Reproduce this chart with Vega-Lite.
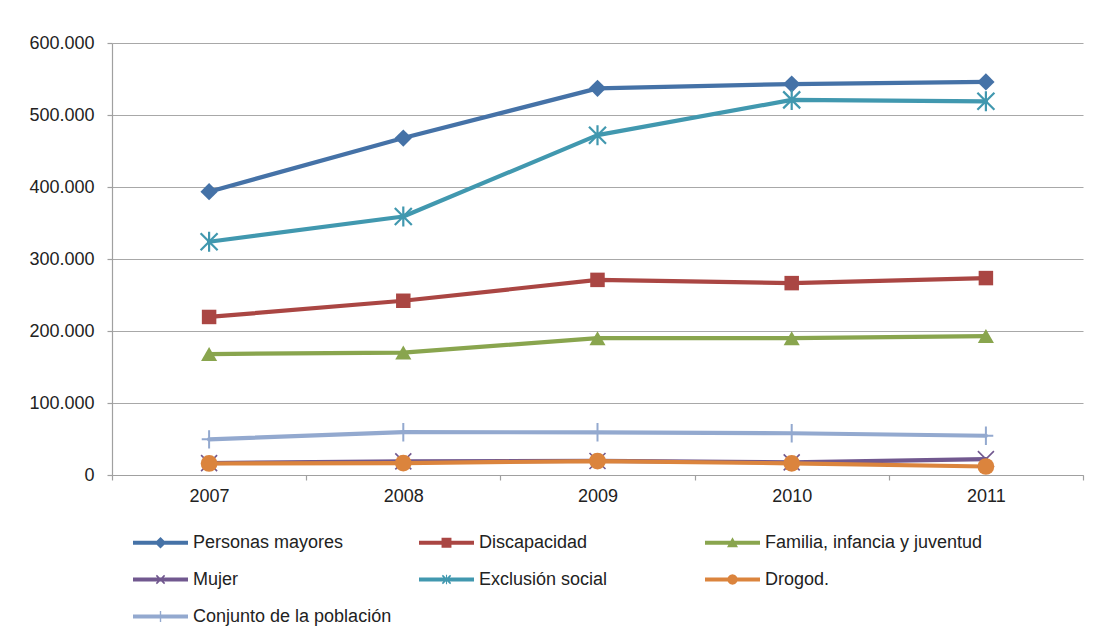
{
  "$schema": "https://vega.github.io/schema/vega-lite/v6.json",
  "autosize": "none",
  "width": 971,
  "height": 432,
  "padding": {"left": 112, "top": 43, "right": 15, "bottom": 164},
  "background": "white",
  "config": {
    "font": "Liberation Sans",
    "view": {"stroke": null},
    "axis": {"labelFont": "Liberation Sans", "labelFontSize": 18, "labelColor": "#222222", "domainColor": "#a0a0a0", "tickColor": "#a0a0a0", "gridColor": "#a8a8a8", "domainWidth": 1.2, "tickWidth": 1.2, "gridWidth": 1.2, "tickSize": 5, "title": null}
  },
  "data": {
    "values": [
      {"series": "Personas mayores", "year": "2007", "value": 393500},
      {"series": "Personas mayores", "year": "2008", "value": 468000},
      {"series": "Personas mayores", "year": "2009", "value": 537000},
      {"series": "Personas mayores", "year": "2010", "value": 543000},
      {"series": "Personas mayores", "year": "2011", "value": 546000},
      {"series": "Discapacidad", "year": "2007", "value": 219500},
      {"series": "Discapacidad", "year": "2008", "value": 242000},
      {"series": "Discapacidad", "year": "2009", "value": 271000},
      {"series": "Discapacidad", "year": "2010", "value": 266500},
      {"series": "Discapacidad", "year": "2011", "value": 273500},
      {"series": "Familia, infancia y juventud", "year": "2007", "value": 168000},
      {"series": "Familia, infancia y juventud", "year": "2008", "value": 170000},
      {"series": "Familia, infancia y juventud", "year": "2009", "value": 190000},
      {"series": "Familia, infancia y juventud", "year": "2010", "value": 190000},
      {"series": "Familia, infancia y juventud", "year": "2011", "value": 193000},
      {"series": "Mujer", "year": "2007", "value": 16500},
      {"series": "Mujer", "year": "2008", "value": 19000},
      {"series": "Mujer", "year": "2009", "value": 19500},
      {"series": "Mujer", "year": "2010", "value": 17500},
      {"series": "Mujer", "year": "2011", "value": 22000},
      {"series": "Exclusión social", "year": "2007", "value": 324000},
      {"series": "Exclusión social", "year": "2008", "value": 359000},
      {"series": "Exclusión social", "year": "2009", "value": 472000},
      {"series": "Exclusión social", "year": "2010", "value": 521000},
      {"series": "Exclusión social", "year": "2011", "value": 519000},
      {"series": "Drogod.", "year": "2007", "value": 16000},
      {"series": "Drogod.", "year": "2008", "value": 16500},
      {"series": "Drogod.", "year": "2009", "value": 19400},
      {"series": "Drogod.", "year": "2010", "value": 16200},
      {"series": "Drogod.", "year": "2011", "value": 11800},
      {"series": "Conjunto de la población", "year": "2007", "value": 49500},
      {"series": "Conjunto de la población", "year": "2008", "value": 59500},
      {"series": "Conjunto de la población", "year": "2009", "value": 59300},
      {"series": "Conjunto de la población", "year": "2010", "value": 58000},
      {"series": "Conjunto de la población", "year": "2011", "value": 54500}
    ]
  },
  "encoding": {
    "x": {
      "field": "year", "type": "ordinal",
      "scale": {"type": "band", "paddingInner": 0, "paddingOuter": 0, "domain": ["2007", "2008", "2009", "2010", "2011"]},
      "axis": {"tickBand": "extent", "labelAngle": 0, "labelPadding": 7, "grid": false}
    },
    "y": {
      "field": "value", "type": "quantitative",
      "scale": {"domain": [0, 600000], "nice": false, "zero": true},
      "axis": {"values": [0, 100000, 200000, 300000, 400000, 500000, 600000], "grid": true, "labelPadding": 13, "labelExpr": "datum.value == 0 ? '0' : replace(format(datum.value, ','), ',', '.')"}
    },
    "color": {
      "field": "series", "type": "nominal", "legend": null,
      "scale": {
        "range": ["#93A9CF", "#AA4643", "#DB843D", "#4198AF", "#89A54E", "#71588F", "#4572A7"]
      }
    }
  },
  "layer": [
    {"mark": {"type": "line", "strokeWidth": 4.2, "strokeJoin": "round", "strokeCap": "round"}, "encoding": {"detail": {"field": "series"}}},
    {"transform": [{"filter": {"field": "series", "equal": "Personas mayores"}}], "mark": {"type": "point", "shape": "diamond", "filled": true, "size": 300, "opacity": 1}},
    {"transform": [{"filter": {"field": "series", "equal": "Discapacidad"}}], "mark": {"type": "point", "shape": "square", "filled": true, "size": 210, "opacity": 1}},
    {"transform": [{"filter": {"field": "series", "equal": "Familia, infancia y juventud"}}], "mark": {"type": "point", "shape": "triangle-up", "filled": true, "size": 260, "opacity": 1}},
    {"transform": [{"filter": {"field": "series", "equal": "Mujer"}}], "mark": {"type": "point", "shape": "M-1,-1L1,1M-1,1L1,-1", "filled": false, "size": 256, "strokeWidth": 1.6, "opacity": 1}},
    {"transform": [{"filter": {"field": "series", "equal": "Exclusión social"}}], "mark": {"type": "point", "shape": "M-0.85,-0.85L0.85,0.85M-0.85,0.85L0.85,-0.85M0,-1L0,1", "filled": false, "size": 400, "strokeWidth": 2.2, "opacity": 1}},
    {"transform": [{"filter": {"field": "series", "equal": "Drogod."}}], "mark": {"type": "point", "shape": "circle", "filled": true, "size": 280, "opacity": 1}},
    {"transform": [{"filter": {"field": "series", "equal": "Conjunto de la población"}}], "mark": {"type": "point", "shape": "M-0.8,0L0.8,0M0,-1L0,1", "filled": false, "size": 340, "strokeWidth": 2, "opacity": 1}},
    {
      "mark": {"type": "point", "filled": true, "opacity": 1, "size": 0, "strokeWidth": 0},
      "encoding": {
        "fill": {
          "field": "series", "type": "nominal",
          "scale": {
            "domain": ["Personas mayores", "Discapacidad", "Familia, infancia y juventud", "Mujer", "Exclusión social", "Drogod.", "Conjunto de la población"],
            "range": ["#4572A7", "#AA4643", "#89A54E", "#71588F", "#4198AF", "#DB843D", "#93A9CF"]
          },
          "legend": {
            "title": null, "orient": "none", "direction": "horizontal", "legendX": 21, "legendY": 472,
            "columns": 3, "gridAlign": "all", "symbolSize": 3025, "symbolStrokeWidth": 0, "symbolOpacity": 1,
            "labelOffset": 5, "rowPadding": -19, "columnPadding": 8, "padding": 0,
            "labelFont": "Liberation Sans", "labelFontSize": 18, "labelColor": "#222222", "labelLimit": 400
          }
        },
        "shape": {
          "field": "series", "type": "nominal",
          "scale": {
            "domain": ["Personas mayores", "Discapacidad", "Familia, infancia y juventud", "Mujer", "Exclusión social", "Drogod.", "Conjunto de la población"],
            "range": [
              "M-1,-0.075L1,-0.075L1,0.075L-1,0.075ZM0,-0.21L0.21,0L0,0.21L-0.21,0Z",
              "M-1,-0.075L1,-0.075L1,0.075L-1,0.075ZM-0.18,-0.18L0.18,-0.18L0.18,0.18L-0.18,0.18Z",
              "M-1,-0.075L1,-0.075L1,0.075L-1,0.075ZM0,-0.2L0.2,0.16L-0.2,0.16Z",
              "M-1,-0.075L1,-0.075L1,0.075L-1,0.075ZM-0.13,-0.17L0.17,0.13L0.13,0.17L-0.17,-0.13ZM-0.17,0.13L0.13,-0.17L0.17,-0.13L-0.13,0.17Z",
              "M-1,-0.075L1,-0.075L1,0.075L-1,0.075ZM-0.13,-0.17L0.17,0.13L0.13,0.17L-0.17,-0.13ZM-0.17,0.13L0.13,-0.17L0.17,-0.13L-0.13,0.17ZM-0.02,-0.17L0.02,-0.17L0.02,0.17L-0.02,0.17Z",
              "M-1,-0.075L1,-0.075L1,0.075L-1,0.075ZM0.19,0L0.165,0.095L0.095,0.165L0,0.19L-0.095,0.165L-0.165,0.095L-0.19,0L-0.165,-0.095L-0.095,-0.165L0,-0.19L0.095,-0.165L0.165,-0.095Z",
              "M-1,-0.075L1,-0.075L1,0.075L-1,0.075ZM-0.025,-0.2L0.025,-0.2L0.025,0.2L-0.025,0.2Z"
            ]
          },
          "legend": {
            "title": null, "orient": "none", "direction": "horizontal", "legendX": 21, "legendY": 472,
            "columns": 3, "gridAlign": "all", "symbolSize": 3025, "symbolStrokeWidth": 0, "symbolOpacity": 1,
            "labelOffset": 5, "rowPadding": -19, "columnPadding": 8, "padding": 0,
            "labelFont": "Liberation Sans", "labelFontSize": 18, "labelColor": "#222222", "labelLimit": 400
          }
        }
      }
    }
  ]
}
